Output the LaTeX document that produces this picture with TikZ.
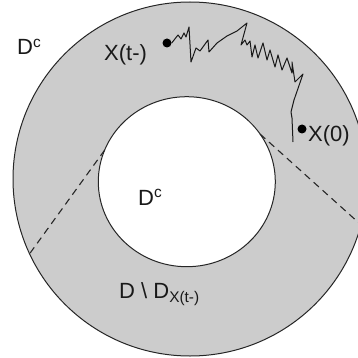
\documentclass[tikz,border=0pt]{standalone}
\usepackage{fontspec}
\setmainfont{Liberation Sans}
\usetikzlibrary{shapes.geometric}
\definecolor{RegionGray}{RGB}{204,204,204}

\begin{document}
\begin{tikzpicture}[x=1pt,y=-1pt,font=\fontsize{22}{26}\selectfont,
    ring/.style={draw=black!85, line width=1pt, inner sep=0pt, outer sep=0pt},
    dot/.style={circle, fill=black, inner sep=0pt, minimum size=9pt},
    cut/.style={draw=black!85, line width=1.1pt, dash pattern=on 7pt off 5pt},
    walk/.style={draw=black!90, line width=1pt, line join=round},
    lbl/.style={anchor=base west, inner sep=0pt, text=black!90}]
        \useasboundingbox (0,0) rectangle (358,358);
        \clip (0,0) rectangle (358,358);

        \node[ring, circle, fill=RegionGray, minimum size=354pt] (outer) at (190,179) {};
        \node[ring, ellipse, fill=white, minimum width=177pt, minimum height=170pt] (inner) at (186.8,181.7) {};

        \draw[cut] (inner.159) -- (outer.205);
        \draw[cut] (inner.33) -- (outer.-15.5);

        \node[dot] (xt) at (167,43) {};
        \node[dot] (x0) at (302,129) {};

        \draw[walk] (xt.east) -- plot coordinates {
          (178,35) (181,39) (184,33) (186,37) (189,27) (191,62) (196,48) (200,51)
          (208,40) (209,52) (217,43) (227,36) (237,31) (247,23) (241,45) (245,40)
          (247,45) (250,41) (252,57) (255,45) (258,58) (263,43) (267,60) (270,50)
          (275,67) (278,55) (282,70) (287,58) (292,73) (292,62) (295,82) (303,74)
          (294,100) (291,112) (292,118) (293,142)};

        \foreach \n/\x/\y/\txt in {
          dcout/17/55/{D\textsuperscript{c}},
          xtlbl/104/61/{X(t-)},
          x0lbl/308/142/{X(0)},
          dcin/138/205/{D\textsuperscript{c}},
          dminus/119/298/{D \textbackslash{} D\textsubscript{X(t-)}}
        } {
          \node[lbl] (\n) at (\x,\y) {\txt};
        }

\end{tikzpicture}
\end{document}
